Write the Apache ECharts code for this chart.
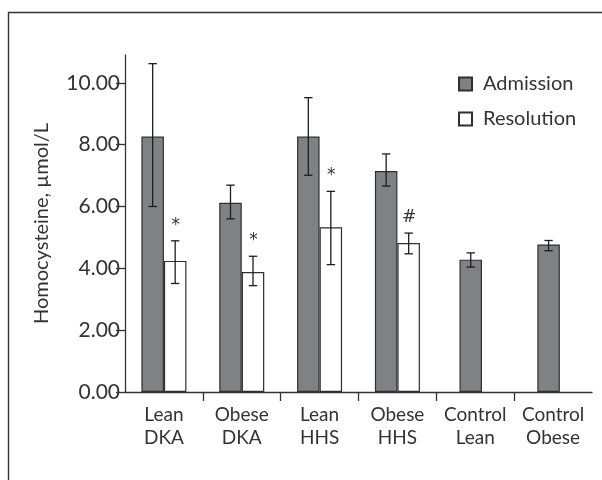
<!DOCTYPE html>
<html><head><meta charset="utf-8">
<script src="https://cdn.jsdelivr.net/npm/echarts@6/dist/echarts.min.js"></script>
<style>html,body{margin:0;padding:0;background:#fff}#c{width:602px;height:480px}</style>
</head><body><div id="c"></div>
<script>
// ---- data ----
const categories = ['Lean\nDKA', 'Obese\nDKA', 'Lean\nHHS', 'Obese\nHHS', 'Control\nLean', 'Control\nObese'];
const admission = [8.26, 6.12, 8.26, 7.15, '-', '-'];
const admissionControl = ['-', '-', '-', '-', 4.28, 4.77];
const resolution = [4.24, 3.88, 5.33, 4.82, '-', '-'];
const admissionLow = [6.00, 5.60, 7.01, 6.66, 4.04, 4.57];
const admissionHigh = [10.62, 6.69, 9.52, 7.70, 4.50, 4.90];
const resolutionLow = [3.51, 3.44, 4.12, 4.47, null, null];
const resolutionHigh = [4.89, 4.39, 6.49, 5.14, null, null];
const marks = ['*', '*', '*', '#', '', ''];
const yTicks = [0, 2, 4, 6, 8, 10];
const xTickPositions = [1, 2, 3, 4, 5];

// ---- style constants ----
const FONT = 'Lato';
const TXT = '#333';
const BAR_W = 22.5;
const SPACER_W = 9;
const GRAY = '#808184';
const EDGE = '#2f2f2f';

function errData(lo, hi, withMarks) {
  const out = [];
  lo.forEach((v, i) => { if (v != null) out.push([i, v, hi[i], withMarks ? marks[i] : '']); });
  return out;
}
const admErr = errData(admissionLow, admissionHigh, false);
const resErr = errData(resolutionLow, resolutionHigh, true);

function errRender(offsetFn) {
  return function (params, api) {
    const i = api.value(0);
    const pLo = api.coord([i, api.value(1)]);
    const pHi = api.coord([i, api.value(2)]);
    const x = pLo[0] + offsetFn(i);
    const cw = 4.2;
    const ls = { stroke: '#1e1e1e', lineWidth: 1.3 };
    const children = [
      { type: 'line', shape: { x1: x, y1: pLo[1], x2: x, y2: pHi[1] }, style: ls },
      { type: 'line', shape: { x1: x - cw, y1: pLo[1], x2: x + cw, y2: pLo[1] }, style: ls },
      { type: 'line', shape: { x1: x - cw, y1: pHi[1], x2: x + cw, y2: pHi[1] }, style: ls }
    ];
    const m = api.value(3);
    if (m) {
      children.push({ type: 'text', x: x + 0.5, y: pHi[1] - 7,
        style: { text: m, fill: TXT, font: '17px "DejaVu Sans"', align: 'center', verticalAlign: 'bottom' } });
    }
    return { type: 'group', children };
  };
}

const chart = echarts.init(document.getElementById('c'), null, { renderer: 'canvas' });
chart.setOption({
  animation: false,
  backgroundColor: '#fff',
  textStyle: { fontFamily: FONT, color: TXT },
  graphic: [{
    type: 'polyline', silent: true,
    shape: { points: [[8.5, 480], [8.5, 12.5], [602, 12.5]] },
    style: { stroke: '#333', lineWidth: 1.4, fill: null }
  }],
  grid: { left: 125, right: 10, top: 55, bottom: 88, containLabel: false },
  legend: {
    data: ['Admission', 'Resolution'],
    orient: 'vertical', left: 458, top: 74, padding: 0,
    icon: 'rect', itemWidth: 13, itemHeight: 13, itemGap: 15,
    textStyle: { fontSize: 20, color: TXT, fontFamily: FONT, padding: [0, 0, 0, 6] }
  },
  xAxis: [{
    type: 'category', data: categories,
    axisLine: { lineStyle: { color: '#333', width: 1.3 } },
    axisTick: { show: false },
    axisLabel: { fontSize: 19, lineHeight: 23, color: TXT, margin: 11, fontFamily: FONT, interval: 0 }
  }, {
    type: 'category', data: categories, show: false
  }, {
    type: 'value', min: 0, max: categories.length, position: 'bottom',
    axisLine: { show: false }, splitLine: { show: false },
    axisLabel: { show: false },
    axisTick: { show: true, length: 9, customValues: xTickPositions, lineStyle: { color: '#333', width: 1.3 } }
  }],
  yAxis: {
    type: 'value', min: 0, max: 10.9,
    name: 'Homocysteine, µmol/L', nameLocation: 'middle', nameGap: 73,
    nameTextStyle: { fontSize: 20, color: TXT, fontFamily: FONT },
    axisLine: { show: true, lineStyle: { color: '#333', width: 1.3 } },
    axisTick: { show: true, length: 9, customValues: yTicks, lineStyle: { color: '#333', width: 1.3 } },
    axisLabel: { fontSize: 21, color: TXT, margin: 5, fontFamily: FONT, customValues: yTicks,
      formatter: v => v.toFixed(2) },
    splitLine: { show: false }
  },
  series: [
    { name: 'Admission', type: 'bar', data: admission, barWidth: BAR_W, barGap: '0%',
      itemStyle: { color: GRAY, borderColor: EDGE, borderWidth: 1.2 } },
    { name: 'Resolution', type: 'bar', data: resolution, barWidth: BAR_W, barGap: '0%',
      itemStyle: { color: '#fff', borderColor: EDGE, borderWidth: 1.2 } },
    { name: 'Admission', type: 'bar', xAxisIndex: 1, data: admissionControl, barWidth: BAR_W, barGap: '0%',
      itemStyle: { color: GRAY, borderColor: EDGE, borderWidth: 1.2 } },
    { name: 'spacer', type: 'bar', xAxisIndex: 1, data: categories.map(() => '-'), barWidth: SPACER_W, barGap: '0%' },
    { name: 'admErr', type: 'custom', data: admErr, encode: { x: 0, y: [1, 2] }, z: 5,
      renderItem: errRender(i => (i < 4 ? -BAR_W / 2 : -SPACER_W / 2)) },
    { name: 'resErr', type: 'custom', data: resErr, encode: { x: 0, y: [1, 2] }, z: 5,
      renderItem: errRender(() => BAR_W / 2) }
  ]
});
</script></body></html>
